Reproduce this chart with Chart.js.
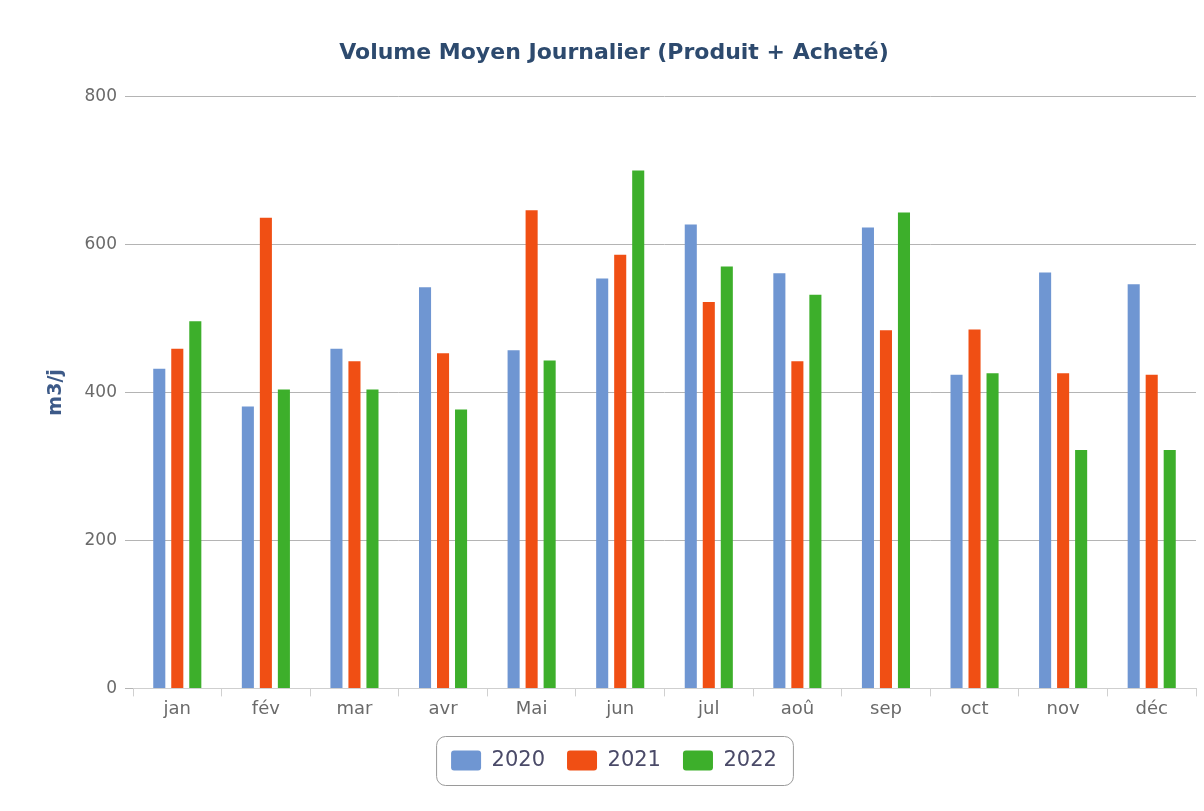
<!DOCTYPE html>
<html>
<head>
<meta charset="utf-8">
<script src="https://cdn.jsdelivr.net/npm/chart.js@4/dist/chart.umd.min.js"></script>
<style>
  html, body { margin: 0; padding: 0; background: #fff; }
  #wrap { width: 1204px; height: 811px; }
</style>
</head>
<body>
<div id="wrap"><canvas id="barchart" width="1204" height="811"></canvas></div>
<script>
const months = ['jan', 'fév', 'mar', 'avr', 'Mai', 'jun', 'jul', 'aoû', 'sep', 'oct', 'nov', 'déc'];
const vol2020 = [432, 381, 459, 542, 457, 554, 627, 561, 623, 424, 562, 546];
const vol2021 = [459, 636, 442, 453, 646, 586, 522, 442, 484, 485, 426, 424];
const vol2022 = [496, 404, 404, 377, 443, 700, 570, 532, 643, 426, 322, 322];
const yTicks = [0, 200, 400, 600, 800];

// rounded frame around the legend
const legendFrame = {
    id: 'legendFrame',
    afterDraw(chart) {
        const boxes = chart.legend.legendHitBoxes;
        if (!boxes || !boxes.length) return;
        const x1 = Math.min(...boxes.map(b => b.left)) - 15;
        const x2 = Math.max(...boxes.map(b => b.left + b.width)) + 16;
        const y1 = boxes[0].top - 14;
        const y2 = boxes[0].top + boxes[0].height + 14;
        const c = chart.ctx;
        c.save();
        c.strokeStyle = '#9a9a9a';
        c.lineWidth = 1;
        c.beginPath();
        c.roundRect(x1 + 0.5, y1 + 0.5, x2 - x1, y2 - y1, 9);
        c.stroke();
        c.restore();
    }
};

const ctx = document.getElementById('barchart').getContext('2d');
const myChart = new Chart(ctx, {
    type: 'bar',
    data: {
        labels: months,
        datasets: [
            { label: '2020', data: vol2020, backgroundColor: '#6f96d2' },
            { label: '2021', data: vol2021, backgroundColor: '#f04f14' },
            { label: '2022', data: vol2022, backgroundColor: '#3daf2b' }
        ]
    },
    options: {
        responsive: false,
        animation: false,
        categoryPercentage: 0.61,
        barPercentage: 0.67,
        layout: { padding: { left: 32, right: 8, top: 0, bottom: 30 } },
        plugins: {
            title: {
                display: true,
                text: 'Volume Moyen Journalier (Produit + Acheté)',
                color: '#2d4a6e',
                font: { family: 'DejaVu Sans', size: 22, weight: 'bold' },
                padding: { top: 40, bottom: 30 }
            },
            legend: {
                position: 'bottom',
                labels: {
                    color: '#4a4a68',
                    font: { family: 'DejaVu Sans', size: 21 },
                    boxWidth: 30,
                    boxHeight: 20,
                    useBorderRadius: true,
                    borderRadius: 3,
                    padding: 22
                }
            },
            tooltip: { enabled: false }
        },
        scales: {
            x: {
                afterFit: scale => { scale.height += 6; },
                grid: { display: true, drawOnChartArea: false, tickLength: 8, color: '#d0d0d0' },
                border: { display: true, color: '#cfcfcf' },
                ticks: { color: '#6a6a6a', font: { family: 'DejaVu Sans', size: 18 }, padding: 2 }
            },
            y: {
                min: 0,
                max: 800,
                afterBuildTicks: scale => { scale.ticks = yTicks.map(v => ({ value: v })); },
                afterFit: scale => { scale.width = 101; },
                grid: { color: '#b4b4b4', tickLength: 8 },
                border: { display: false },
                ticks: { color: '#6a6a6a', font: { family: 'DejaVu Sans', size: 17 }, padding: 8 },
                title: {
                    display: true,
                    text: 'm3/j',
                    color: '#3d5a88',
                    font: { family: 'DejaVu Sans', size: 19, weight: 'bold' },
                    padding: { top: 13, bottom: 0 }
                }
            }
        }
    },
    plugins: [legendFrame]
});
</script>
</body>
</html>
